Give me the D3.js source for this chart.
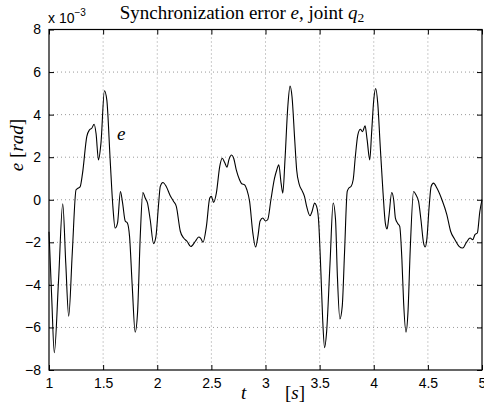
<html>
<head>
<meta charset="utf-8">
<script src="https://d3js.org/d3.v7.min.js"></script>
<style>
  body { margin: 0; background: #fff; }
  svg { display: block; }
  .tick text { font-family: "Liberation Sans", Arial, sans-serif; font-size: 14px; fill: #000; }
</style>
</head>
<body>
<svg width="484" height="408"></svg>
<script>
// time [s]
var times = [1.0, 1.025, 1.049, 1.088, 1.127, 1.155, 1.182, 1.215, 1.25, 1.27, 1.287, 1.31, 1.349, 1.373, 1.395, 1.417,
  1.435, 1.457, 1.48, 1.512, 1.534, 1.565, 1.59, 1.611, 1.633, 1.66, 1.68, 1.704, 1.725, 1.744, 1.769, 1.796,
  1.818, 1.843, 1.867, 1.889, 1.91, 1.935, 1.966, 1.988, 2.012, 2.028, 2.052, 2.083, 2.12, 2.151, 2.176, 2.213,
  2.244, 2.275, 2.31, 2.352, 2.383, 2.40, 2.423, 2.454, 2.485, 2.5, 2.52, 2.546, 2.577, 2.60, 2.623, 2.644,
  2.663, 2.687, 2.706, 2.73, 2.76, 2.78, 2.807, 2.828, 2.853, 2.883, 2.908, 2.93, 2.95, 2.975, 3.0, 3.02,
  3.05, 3.083, 3.104, 3.123, 3.144, 3.16, 3.18, 3.206, 3.227, 3.245, 3.27, 3.288, 3.313, 3.337, 3.36, 3.38,
  3.411, 3.43, 3.454, 3.472, 3.49, 3.512, 3.528, 3.546, 3.564, 3.596, 3.625, 3.647, 3.663, 3.687, 3.709, 3.73,
  3.755, 3.77, 3.79, 3.81, 3.83, 3.853, 3.877, 3.896, 3.92, 3.939, 3.963, 3.98, 4.0, 4.018, 4.037, 4.06,
  4.086, 4.107, 4.123, 4.14, 4.166, 4.184, 4.2, 4.22, 4.24, 4.26, 4.276, 4.298, 4.316, 4.337, 4.368, 4.39,
  4.414, 4.436, 4.46, 4.475, 4.49, 4.512, 4.53, 4.552, 4.583, 4.63, 4.675, 4.71, 4.75, 4.788, 4.822, 4.853,
  4.89, 4.914, 4.935, 4.957, 4.98, 5.0];
// synchronization error e, x 10^-3 rad
var errors = [-1.5, -4.6, -7.19, -3.8, -0.19, -3.0, -5.47, -2.5, 0.47, 0.55, 0.6, 1.25, 2.97, 3.28, 3.36, 3.55,
  3.1, 1.875, 2.66, 5.12, 4.69, 1.875, -0.31, -1.33, -1.1, 0.39, -0.16, -1.0, -1.1, -1.72, -4.06, -6.22,
  -5.3, -1.72, 0.34, 0.08, -0.16, -0.94, -2.06, -1.72, -0.23, 0.625, 0.81, 0.625, 0.19, -0.08, -0.31, -1.48,
  -1.8, -1.95, -2.2, -1.95, -1.75, -1.8, -2.0, -1.25, 0.08, 0.16, -0.125, 0.31, 1.56, 1.95, 1.75, 1.53,
  1.9, 2.1, 1.95, 1.4, 0.94, 0.75, 0.7, 0.47, -0.08, -1.56, -2.22, -1.72, -1.0, -0.86, -1.0, -0.94,
  0.0, 1.0, 1.4, 1.64, 0.78, 0.31, 1.875, 4.375, 5.34, 4.84, 2.81, 1.4, 0.7, 0.44, 0.16, -0.31,
  -0.75, -0.55, -0.16, -0.31, -0.94, -3.44, -5.6, -6.95, -6.25, -3.0, -0.15, -0.94, -3.44, -5.6, -5.0, -2.5,
  0.39, 0.55, 0.625, 0.94, 2.03, 3.05, 3.31, 3.2, 3.47, 2.81, 1.875, 3.125, 4.69, 5.23, 4.53, 2.5,
  0.31, -1.1, -1.375, -0.78, 0.34, 0.0, -0.86, -1.1, -1.25, -2.8, -4.84, -6.22, -5.3, -2.34, 0.39, 0.23,
  -0.08, -0.94, -2.03, -2.22, -1.875, -0.31, 0.625, 0.78, 0.55, 0.0, -0.7, -1.48, -1.875, -2.19, -2.27, -2.03,
  -1.8, -1.875, -1.64, -1.56, -0.55, 0.0];
var xTicks = [1, 1.5, 2, 2.5, 3, 3.5, 4, 4.5, 5];
var yTicks = [-8, -6, -4, -2, 0, 2, 4, 6, 8];

var svg = d3.select("svg");
var pLeft = 49, pRight = 482, pTop = 29.5, pBottom = 370;

var x = d3.scaleLinear().domain([1, 5]).range([pLeft, pRight]);
var y = d3.scaleLinear().domain([-8, 8]).range([pBottom, pTop]);

// grid
svg.append("g").selectAll("line").data(xTicks.slice(1, -1)).enter().append("line")
  .attr("x1", function(d) { return x(d); }).attr("x2", function(d) { return x(d); })
  .attr("y1", pTop).attr("y2", pBottom)
  .attr("stroke", "#999").attr("stroke-dasharray", "1,3");
svg.append("g").selectAll("line").data(yTicks.slice(1, -1)).enter().append("line")
  .attr("y1", function(d) { return y(d); }).attr("y2", function(d) { return y(d); })
  .attr("x1", pLeft).attr("x2", pRight)
  .attr("stroke", "#999").attr("stroke-dasharray", "1,3");

// axes
var fmt = function(d) { return d3.format("")(d).replace("-", "\u2212"); };
svg.append("g").attr("transform", "translate(0," + pBottom + ")")
  .call(d3.axisBottom(x).tickValues(xTicks).tickSizeInner(-5).tickSizeOuter(0).tickPadding(8).tickFormat(fmt));
svg.append("g").attr("transform", "translate(0," + pTop + ")")
  .call(d3.axisTop(x).tickValues(xTicks).tickSizeInner(-5).tickSizeOuter(0).tickFormat(""));
svg.append("g").attr("transform", "translate(" + pLeft + ",0)")
  .call(d3.axisLeft(y).tickValues(yTicks).tickSizeInner(-5).tickSizeOuter(0).tickPadding(8).tickFormat(fmt));
svg.append("g").attr("transform", "translate(" + pRight + ",0)")
  .call(d3.axisRight(y).tickValues(yTicks).tickSizeInner(-5).tickSizeOuter(0).tickFormat(""));
svg.selectAll(".domain").remove();
svg.selectAll(".tick line").attr("stroke", "#000");

// frame
svg.append("rect").attr("x", pLeft).attr("y", pTop).attr("width", pRight - pLeft).attr("height", pBottom - pTop)
  .attr("fill", "none").attr("stroke", "#000").attr("stroke-width", 1.2);

// curve
var pts = times.map(function(t, i) { return [t, errors[i]]; });
svg.append("path").datum(pts)
  .attr("fill", "none").attr("stroke", "#000").attr("stroke-width", 1.1)
  .attr("d", d3.line().x(function(d) { return x(d[0]); }).y(function(d) { return y(d[1]); }).curve(d3.curveMonotoneX));

// exponent
var ex = svg.append("text").attr("x", 48).attr("y", 23)
  .style("font-family", "Liberation Sans, Arial, sans-serif").style("font-size", "14px");
ex.append("tspan").text("x 10");
ex.append("tspan").attr("dy", -7).style("font-size", "10px").text("\u22123");

// title
var serif = "Liberation Serif, Times New Roman, serif";
var title = svg.append("text").attr("x", 242).attr("y", 19).attr("text-anchor", "middle")
  .style("font-family", serif).style("font-size", "19px");
title.append("tspan").text("Synchronization error ");
title.append("tspan").style("font-style", "italic").text("e");
title.append("tspan").text(", joint ");
title.append("tspan").style("font-style", "italic").text("q");
title.append("tspan").attr("dy", 3).style("font-size", "13.5px").text("2");

// axis labels
svg.append("text").attr("x", 241).attr("y", 399)
  .style("font-family", serif).style("font-size", "19px").style("font-style", "italic").text("t");
var xl = svg.append("text").attr("x", 285).attr("y", 399)
  .style("font-family", serif).style("font-size", "19px");
xl.append("tspan").text("[");
xl.append("tspan").style("font-style", "italic").text("s");
xl.append("tspan").text("]");

var yl = svg.append("text").attr("transform", "translate(23,145) rotate(-90)").attr("text-anchor", "middle")
  .style("font-family", serif).style("font-size", "19px");
yl.append("tspan").style("font-style", "italic").text("e");
yl.append("tspan").text(" [");
yl.append("tspan").style("font-style", "italic").text("rad");
yl.append("tspan").text("]");

// curve label
svg.append("text").attr("x", 117).attr("y", 140)
  .style("font-family", serif).style("font-size", "19px").style("font-style", "italic").text("e");
</script>
</body>
</html>
